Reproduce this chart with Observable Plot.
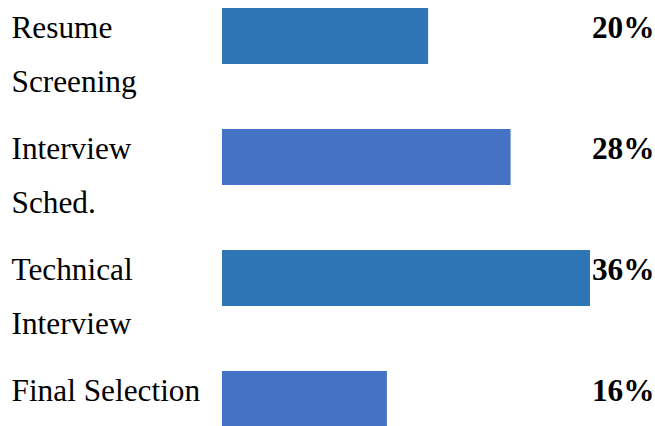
<!DOCTYPE html>
<html>
<head>
<meta charset="utf-8">
<script src="https://cdn.jsdelivr.net/npm/d3@7"></script>
<script src="https://cdn.jsdelivr.net/npm/@observablehq/plot@0.6"></script>
<style>
  html, body { margin: 0; padding: 0; background: #fff; }
  svg { display: block; }
</style>
</head>
<body>
<div id="chart"></div>
<script>
const stages = ["Resume\nScreening", "Interview\nSched.", "Technical\nInterview", "Final Selection"];
const shares = [20, 28, 36, 16];
const valueLabels = ["20%", "28%", "36%", "16%"];

const barColors = ["#2E75B6", "#4472C4"];
const data = stages.map((s, i) => ({stage: s, value: shares[i], label: valueLabels[i], idx: i}));
const font = "'Liberation Serif', 'Times New Roman', serif";
const fs = 31.3;

const chart = Plot.plot({
  width: 655,
  height: 426,
  marginTop: 0, marginRight: 65, marginBottom: 0, marginLeft: 0,
  style: {fontFamily: font, background: "#fff"},
  x: {domain: [0, 36], range: [222, 593], axis: null},
  y: {domain: stages, range: [8, 427], paddingInner: 65 / 121, paddingOuter: 0, round: false, axis: null},
  marks: [
    Plot.barX(data, {x: "value", y: "stage", fill: d => barColors[d.idx % 2], clip: "frame"}),
    Plot.text(data, {
      y: "stage", text: "stage", frameAnchor: "left", textAnchor: "start",
      dx: 11, dy: -36.8, lineAnchor: "top", lineHeight: 54 / fs,
      fontSize: fs, fontFamily: font, fill: "#000"
    }),
    Plot.text(data, {
      y: "stage", text: "label", frameAnchor: "right", textAnchor: "end",
      dx: 64, dy: -21.2, lineAnchor: "top",
      fontSize: fs, fontWeight: "bold", fontFamily: font, fill: "#000"
    })
  ]
});
document.getElementById("chart").appendChild(chart);
</script>
</body>
</html>
